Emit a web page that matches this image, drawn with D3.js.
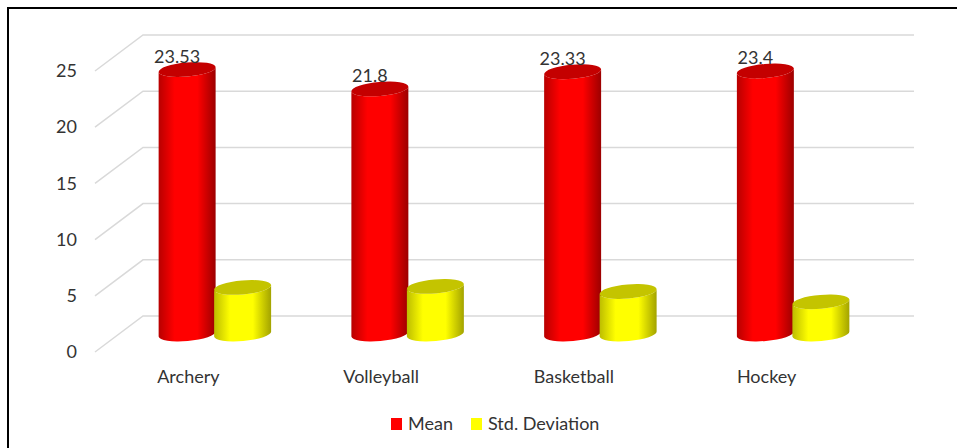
<!DOCTYPE html>
<html>
<head>
<meta charset="utf-8">
<script src="https://cdn.jsdelivr.net/npm/d3@7"></script>
<style>
  html, body { margin: 0; padding: 0; background: #fff; }
  svg { display: block; }
  text { font-family: Lato, "Open Sans", sans-serif; fill: #333; }
</style>
</head>
<body>
<div id="chart"></div>
<script>
// values
var categories = ["Archery", "Volleyball", "Basketball", "Hockey"];
var seriesNames = ["Mean", "Std. Deviation"];
var meanValues = [23.53, 21.8, 23.33, 23.4];
var stdValues = [4.14, 4.23, 3.78, 2.86];
var meanLabels = ["23.53", "21.8", "23.33", "23.4"];
var yTicks = [0, 5, 10, 15, 20, 25];

var width = 957, height = 448;

// fake 3d box: back wall is shifted by depth from the front plane
var depthX = 48, depthY = 36;
var front = { left: 95, right: 866, bottom: 352, top: 71 };

var svg = d3.select("#chart").append("svg")
  .attr("width", width)
  .attr("height", height);

var defs = svg.append("defs");

function addGradient(id, edgeLeft, mid, edgeRight) {
  var g = defs.append("linearGradient").attr("id", id);
  g.append("stop").attr("offset", "0%").attr("stop-color", edgeLeft);
  g.append("stop").attr("offset", "28%").attr("stop-color", mid);
  g.append("stop").attr("offset", "68%").attr("stop-color", mid);
  g.append("stop").attr("offset", "100%").attr("stop-color", edgeRight);
}
addGradient("side-mean", "#b80000", "#ff0000", "#9c0000");
addGradient("side-std", "#bdbd00", "#ffff00", "#a3a300");

var seriesFill = { "Mean": "url(#side-mean)", "Std. Deviation": "url(#side-std)" };
var seriesTop = { "Mean": "#c40000", "Std. Deviation": "#c4c400" };
var seriesSwatch = { "Mean": "#ff0000", "Std. Deviation": "#ffff00" };

// scales
var x0 = d3.scaleBand().domain(categories).range([front.left, front.right]);
var x1 = d3.scaleBand().domain(seriesNames).range([-55.5, 55.5]);
var y = d3.scaleLinear().domain([0, 25]).range([front.bottom, front.top]);

// outer frame, only the top and left edges are in the shot
svg.append("path")
  .attr("d", "M8,448V8H957")
  .attr("fill", "none")
  .attr("stroke", "#000")
  .attr("stroke-width", 2);

// gridlines along the side wall and the back wall
var grid = svg.append("g").attr("class", "grid");
grid.selectAll("path").data(yTicks).join("path")
  .attr("d", function (d) {
    return "M" + front.left + "," + y(d) +
      "L" + (front.left + depthX) + "," + (y(d) - depthY) +
      "H" + (front.right + depthX);
  })
  .attr("fill", "none")
  .attr("stroke", "#d9d9d9")
  .attr("stroke-width", 1.5);

// axes
var yAxis = d3.axisLeft(y).tickValues(yTicks).tickSize(0).tickPadding(18);
var yG = svg.append("g").attr("transform", "translate(" + front.left + ",0)").call(yAxis);
yG.select(".domain").remove();
yG.selectAll("text").style("font-size", "18px").attr("fill", "#333");

var xAxis = d3.axisBottom(x0).tickSize(0);
var xG = svg.append("g").attr("transform", "translate(-3,366)").call(xAxis);
xG.select(".domain").remove();
xG.selectAll("text").style("font-size", "18px").attr("fill", "#333").attr("dy", 0).attr("y", 17);

// cylinders
var rx = 28.6, ry = 7, tilt = -5;
var rad = tilt * Math.PI / 180;
var baseShiftX = depthX / 2 - 0.5, baseShiftY = -depthY / 2;

function sidePath(cx, yTop, yBase) {
  var dx = rx * Math.cos(rad), dy = rx * Math.sin(rad);
  return "M" + (cx - dx) + "," + (yTop - dy) +
    "L" + (cx - dx) + "," + (yBase - dy) +
    "A" + rx + "," + ry + "," + tilt + ",0,0," + (cx + dx) + "," + (yBase + dy) +
    "L" + (cx + dx) + "," + (yTop + dy) +
    "A" + rx + "," + ry + "," + tilt + ",0,1," + (cx - dx) + "," + (yTop - dy) + "Z";
}

function drawBar(g, name, value, category) {
  var cx = x0(category) + x0.bandwidth() / 2 + x1(name) + x1.bandwidth() / 2 + baseShiftX;
  var yTop = y(value) + baseShiftY;
  var yBase = y(0) + baseShiftY;
  g.append("path")
    .attr("d", sidePath(cx, yTop, yBase))
    .attr("fill", seriesFill[name]);
  g.append("ellipse")
    .attr("cx", cx).attr("cy", yTop)
    .attr("rx", rx).attr("ry", ry)
    .attr("transform", "rotate(" + tilt + " " + cx + " " + yTop + ")")
    .attr("fill", seriesTop[name]);
}

var bars = svg.append("g").attr("class", "bars");
categories.forEach(function (c, i) {
  drawBar(bars, "Mean", meanValues[i], c);
  drawBar(bars, "Std. Deviation", stdValues[i], c);
});

// data labels on the mean series only
svg.append("g").selectAll("text").data(categories).join("text")
  .attr("x", function (c) {
    return x0(c) + x0.bandwidth() / 2 + x1("Mean") + x1.bandwidth() / 2 + baseShiftX - 10;
  })
  .attr("y", function (c, i) { return y(meanValues[i]) + baseShiftY - 6.5; })
  .attr("text-anchor", "middle")
  .style("font-size", "18px")
  .text(function (c, i) { return meanLabels[i]; });

// legend
var legendX = { "Mean": 391, "Std. Deviation": 471 };
var legend = svg.append("g").selectAll("g").data(seriesNames).join("g")
  .attr("transform", function (d) { return "translate(" + legendX[d] + ",418)"; });
legend.append("rect")
  .attr("width", 11).attr("height", 12)
  .attr("fill", function (d) { return seriesSwatch[d]; });
legend.append("text")
  .attr("x", 17).attr("y", 12)
  .style("font-size", "18px")
  .text(function (d) { return d; });
</script>
</body>
</html>
